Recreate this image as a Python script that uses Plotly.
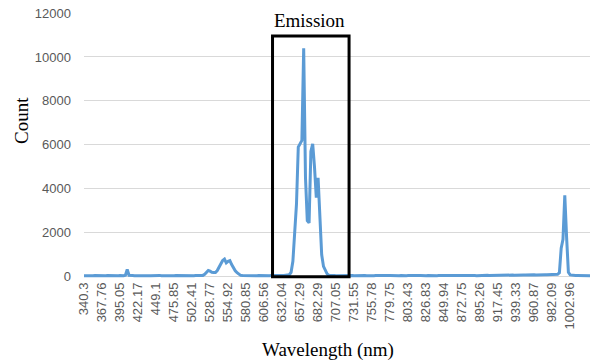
import plotly.graph_objects as go

# Wavelength tick labels (nm), one every LABEL_STEP samples
wavelength_labels = ["340.3", "367.76", "395.05", "422.17", "449.1", "475.85", "502.41",
                     "528.77", "554.92", "580.85", "606.56", "632.04", "657.29", "682.29",
                     "707.05", "731.55", "755.78", "779.75", "803.43", "826.83", "849.94",
                     "872.75", "895.26", "917.45", "939.33", "960.87", "982.09", "1002.96"]
LABEL_STEP = 10

# Detector counts per sample
counts = [
    45, 40, 48, 42, 50, 44, 52, 46, 40, 48,
    55, 47, 42, 50, 45, 58, 44, 49, 52, 46,
    50, 44, 48, 70, 330, 65, 46, 52, 44, 50,
    47, 53, 45, 49, 42, 55, 48, 44, 51, 46,
    50, 45, 60, 47, 43, 52, 48, 56, 45, 50,
    46, 53, 49, 44, 58, 47, 51, 45, 49, 53,
    48, 44, 52, 47, 50, 55, 60, 110, 200, 285,
    250, 200, 195, 195, 280, 450, 620, 740, 800, 630,
    700, 730, 550, 390, 270, 180, 110, 60, 50, 46,
    52, 45, 49, 55, 44, 50, 47, 53, 46, 51,
    48, 44, 52, 46, 50, 45, 49, 53, 47, 50,
    52, 55, 60, 70, 90, 200, 700, 2000, 3300, 5900,
    6050, 6200, 10400, 4500, 2550, 2450, 5700, 6050, 5000, 3600,
    4500, 2400, 1000, 470, 260, 130, 70, 55, 48, 52,
    46, 50, 44, 49, 53, 45, 48, 51, 46, 50,
    47, 52, 45, 49, 55, 46, 50, 44, 53, 48,
    50, 46, 52, 47, 49, 54, 45, 51, 48, 50,
    53, 47, 50, 45, 52, 49, 56, 46, 50, 48,
    51, 46, 54, 48, 50, 45, 52, 57, 47, 50,
    49, 53, 46, 51, 48, 55, 47, 50, 52, 46,
    50, 54, 48, 52, 47, 56, 50, 53, 49, 55,
    52, 48, 57, 51, 54, 50, 58, 53, 49, 56,
    55, 61, 52, 58, 63, 56, 60, 65, 57, 62,
    67, 60, 69, 63, 71, 66, 73, 67, 75, 70,
    77, 71, 79, 74, 81, 75, 83, 78, 85, 79,
    87, 82, 89, 83, 91, 85, 93, 88, 96, 90,
    97, 92, 101, 110, 180, 1300, 1700, 3700, 1800, 200,
    80, 62, 55, 50, 53, 48, 52, 46, 50, 47,
    49, 45,
]

y_ticks = [0, 2000, 4000, 6000, 8000, 10000, 12000]

# Emission highlight box (sample index / count units)
EMISSION_X0, EMISSION_X1 = 104.7, 147.2
EMISSION_Y0, EMISSION_Y1 = 0, 10950

sample_index = list(range(len(counts)))
tick_positions = list(range(0, LABEL_STEP * len(wavelength_labels), LABEL_STEP))

tick_font = dict(family="Liberation Sans", size=13, color="#595959")
title_font = dict(family="Liberation Serif", size=19, color="#000000")

fig = go.Figure()
fig.add_trace(go.Scatter(
    x=sample_index, y=counts, mode="lines",
    line=dict(color="#5b9bd5", width=3),
    hoverinfo="skip", showlegend=False,
))

fig.add_shape(type="rect", xref="x", yref="y",
              x0=EMISSION_X0, x1=EMISSION_X1, y0=EMISSION_Y0, y1=EMISSION_Y1,
              line=dict(color="#000000", width=3), fillcolor="rgba(0,0,0,0)",
              layer="above")

fig.add_annotation(text="Emission", xref="paper", yref="paper", x=0.4466, y=0.9738,
                   xanchor="center", yanchor="middle",
                   showarrow=False, font=title_font, bgcolor="#ffffff",
                   width=97, height=20, borderpad=0)
fig.add_annotation(text="Count", xref="paper", yref="paper", x=-0.1245, y=0.5955,
                   xanchor="center", yanchor="middle",
                   textangle=-90, showarrow=False, font=title_font)
fig.add_annotation(text="Wavelength (nm)", xref="paper", yref="paper", x=0.4818, y=-0.262,
                   xanchor="center", yanchor="middle",
                   showarrow=False, font=title_font)

fig.update_xaxes(
    range=[0, len(counts) - 1],
    tickmode="array", tickvals=tick_positions, ticktext=wavelength_labels,
    tickangle=-90, tickfont=tick_font, ticks="", showgrid=False,
    zeroline=False, showline=False, ticklabelstandoff=-1,
)
fig.update_yaxes(
    range=[-150, 12000],
    tickmode="array", tickvals=y_ticks, ticktext=[str(v) for v in y_ticks],
    tickfont=tick_font, ticks="", showgrid=True, gridcolor="#d9d9d9", gridwidth=1,
    zeroline=False, showline=False, ticklabelstandoff=12,
)

fig.update_layout(
    width=595, height=362,
    margin=dict(l=84, r=5, t=13, b=82),
    plot_bgcolor="#ffffff", paper_bgcolor="#ffffff",
)

fig.write_html("out.html", config={"displayModeBar": False},
               post_script="document.body.style.margin='0';")
